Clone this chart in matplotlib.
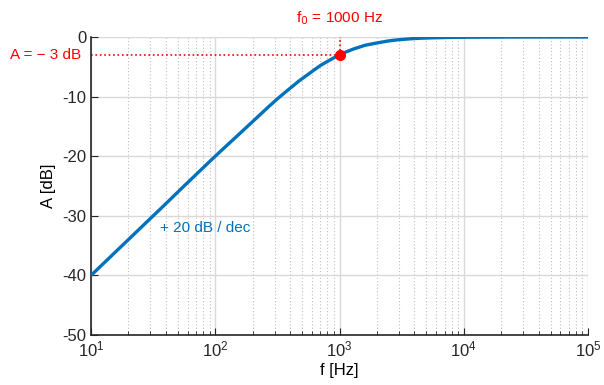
import matplotlib
matplotlib.use('Agg')
import matplotlib.pyplot as plt
import numpy as np

# values
freq = [10, 20, 30, 50, 70, 100, 150, 200, 250, 300, 350, 400, 450, 500, 600, 700,
        800, 900, 1000, 1100, 1200, 1300, 1500, 1600, 2000, 2500, 3000, 4000, 5000,
        7000, 10000, 30000, 100000]
gain = [-40.0, -34.0, -30.5, -26.0, -23.1, -20.0, -16.6, -14.2, -12.3, -10.8, -9.6,
        -8.6, -7.7, -7.0, -5.8, -4.8, -4.1, -3.5, -3.0, -2.6, -2.3, -2.0, -1.6, -1.4,
        -1.0, -0.65, -0.46, -0.26, -0.17, -0.09, -0.04, 0.0, 0.0]
f0 = 1000
a0 = -3
yticks = [0, -10, -20, -30, -40, -50]

plt.rcParams['font.family'] = ['Liberation Sans', 'DejaVu Sans']
blue = '#0072BD'
red = '#FF0000'


def smooth(x, y, n=20):
    # catmull-rom through the read points
    x = np.asarray(x, float); y = np.asarray(y, float)
    px = np.r_[2*x[0]-x[1], x, 2*x[-1]-x[-2]]
    py = np.r_[2*y[0]-y[1], y, 2*y[-1]-y[-2]]
    ox, oy = [], []
    t = np.linspace(0, 1, n, endpoint=False)
    for i in range(1, len(px) - 2):
        for p, o in ((px, ox), (py, oy)):
            p0, p1, p2, p3 = p[i-1], p[i], p[i+1], p[i+2]
            o.extend(0.5*((2*p1) + (-p0+p2)*t + (2*p0-5*p1+4*p2-p3)*t**2
                          + (-p0+3*p1-3*p2+p3)*t**3))
    ox.append(x[-1]); oy.append(y[-1])
    return np.array(ox), np.array(oy)


fig = plt.figure(figsize=(6.04, 3.85), dpi=100)
ax = fig.add_axes([0.1507, 0.1299, 0.8228, 0.774])

xs, ys = smooth(np.log10(freq), gain)
ys = np.minimum(ys, 0)
ax.plot(10**xs, ys, color=blue, lw=2.4, zorder=3, solid_capstyle='butt')

ax.plot([10, f0], [a0, a0], color=red, ls=':', lw=1.2, zorder=2)
ax.plot([f0, f0], [a0, 0], color=red, ls=':', lw=1.2, zorder=2)
ax.plot(f0, a0, 'o', color=red, ms=7, zorder=4)

ax.set_xscale('log')
ax.set_xlim(10, 1e5)
ax.set_ylim(-50, 0)
ax.set_yticks(yticks)
ax.set_yticklabels([str(v) for v in yticks])

ax.grid(True, which='major', color='#d9d9d9', lw=1.0)
ax.grid(True, which='minor', color='#bfbfbf', ls=(0, (1, 2)), lw=0.8)
ax.set_axisbelow(True)

for s in ['top', 'right']:
    ax.spines[s].set_visible(False)
for s in ['left', 'bottom']:
    ax.spines[s].set_linewidth(1.2)
    ax.spines[s].set_color('#262626')

ax.tick_params(which='both', direction='in', labelsize=12, colors='#262626')
ax.tick_params(which='major', length=5)
ax.tick_params(which='minor', length=3)

ax.set_xlabel('f [Hz]', fontsize=12, labelpad=2)
ax.set_ylabel('A [dB]', fontsize=12, labelpad=4)

ax.text(f0, 1.6, r'f$_0$ = 1000 Hz', color=red, fontsize=11, ha='center', va='bottom')
ax.text(-0.02, a0, 'A = \u2212 3 dB', color=red, fontsize=11, ha='right', va='center',
        transform=ax.get_yaxis_transform())
ax.text(36, -32, '+ 20 dB / dec', color=blue, fontsize=11, ha='left', va='center')

fig.savefig('out.png', dpi=100)
